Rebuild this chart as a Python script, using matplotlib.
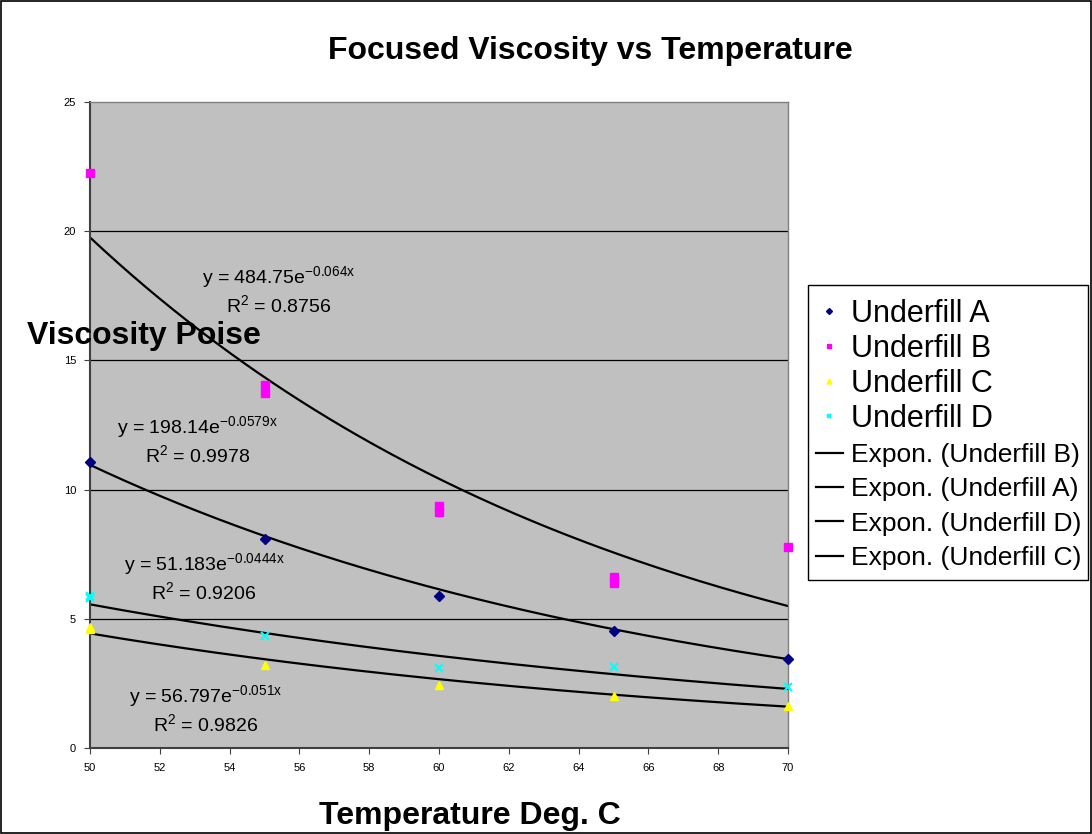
import numpy as np
import matplotlib
matplotlib.use("Agg")
import matplotlib.pyplot as plt
from matplotlib.patches import Rectangle

plt.rcParams['font.family'] = ['Liberation Sans', 'DejaVu Sans']
plt.rcParams['mathtext.fontset'] = 'custom'
plt.rcParams['mathtext.rm'] = 'Liberation Sans'
plt.rcParams['mathtext.default'] = 'regular'

# ---- data ----
a_x = [50, 55, 60, 65, 70]
a_y = [11.07, 8.08, 5.88, 4.54, 3.46]
b_x = [50, 55, 55, 60, 60, 65, 65, 70]
b_y = [22.24, 14.05, 13.72, 9.37, 9.13, 6.6, 6.4, 7.78]
c_x = [50, 50, 55, 60, 65, 70]
c_y = [4.7, 4.6, 3.21, 2.44, 2.01, 1.63]
d_x = [50, 50, 55, 60, 65, 70]
d_y = [5.9, 5.8, 4.33, 3.08, 3.12, 2.37]

# trendline coefficients shown on the chart (y = k * exp(r x))
trend_names = ['Underfill B', 'Underfill A', 'Underfill D', 'Underfill C']
trend_k_txt = ['484.75', '198.14', '51.183', '56.797']
trend_k = [484.75, 198.14, 51.183, 56.797]
trend_r = [-0.064, -0.0579, -0.0444, -0.051]
trend_r2 = ['0.8756', '0.9978', '0.9206', '0.9826']
trend_exp_txt = ['-0.064x', '-0.0579x', '-0.0444x', '-0.051x']
label_pos = [(55.42, 17.72), (53.09, 11.92), (53.27, 6.62), (53.32, 1.51)]

x_ticks = list(range(50, 71, 2))
y_ticks = [0, 5, 10, 15, 20, 25]

fig = plt.figure(figsize=(10.92, 8.34), dpi=100)
ax = fig.add_axes([90/1092, 1-748/834, (788-90)/1092, (748-102)/834])
ax.set_facecolor('#C0C0C0')

for yv in y_ticks[1:-1]:
    ax.axhline(yv, color='black', lw=0.9, zorder=1)

xs = np.linspace(50, 70, 200)
trend_handles = []
for k, r in zip(trend_k, trend_r):
    h, = ax.plot(xs, k*np.exp(r*xs), color='black', lw=1.6, zorder=2)
    trend_handles.append(h)

ha, = ax.plot(a_x, a_y, 'D', color='#000080', ms=5, ls='none', zorder=3, clip_on=False)
hb, = ax.plot(b_x, b_y, 's', color='#FF00FF', ms=6, ls='none', zorder=3, clip_on=False)
hc, = ax.plot(c_x, c_y, '^', color='#FFFF00', ms=6, ls='none', zorder=3, clip_on=False)
hd, = ax.plot(d_x, d_y, 'x', color='#00FFFF', ms=6, mew=1.5, ls='none', zorder=3, clip_on=False)

for (px, py), kt, e, r2 in zip(label_pos, trend_k_txt, trend_exp_txt, trend_r2):
    txt = 'y = %se$^{%s}$\nR$^{2}$ = %s' % (kt, e, r2)
    ax.text(px, py, txt, ha='center', va='center', fontsize=14, multialignment='center', zorder=4)

ax.set_xlim(50, 70)
ax.set_ylim(0, 25)
ax.set_xticks(x_ticks)
ax.set_yticks(y_ticks)
ax.tick_params(axis='both', labelsize=8, length=4, color='#404040')
ax.tick_params(axis='x', direction='out', pad=7)
ax.tick_params(axis='y', pad=6)
for s in ['left', 'bottom']:
    ax.spines[s].set_color('#404040')
    ax.spines[s].set_linewidth(1.5)
for s in ['top', 'right']:
    ax.spines[s].set_color('#808080')
    ax.spines[s].set_linewidth(1.0)

fig.text(590/1092, 1-51/834, 'Focused Viscosity vs Temperature', ha='center', va='center',
         fontsize=23, fontweight='bold')
fig.text(27/1092, 1-336/834, 'Viscosity Poise', ha='left', va='center', fontsize=23, fontweight='bold')
fig.text(470/1092, 1-816/834, 'Temperature Deg. C', ha='center', va='center', fontsize=23, fontweight='bold')

# legend: frame + two stacked borderless legends
fig.add_artist(Rectangle((808/1092, 1-580/834), 280/1092, 295/834, transform=fig.transFigure,
                         facecolor='white', edgecolor='black', lw=1.0, zorder=5))
series_labels = ['Underfill A', 'Underfill B', 'Underfill C', 'Underfill D']
leg1 = fig.legend([ha, hb, hc, hd], series_labels, loc='upper left',
                  bbox_to_anchor=(816/1092, 1-299/834), bbox_transform=fig.transFigure,
                  borderaxespad=0, borderpad=0, frameon=False, fontsize=22, markerscale=0.6,
                  handlelength=0.88, handletextpad=0.26, labelspacing=0.16)
leg1.set_zorder(6)
leg2 = fig.legend(trend_handles, ['Expon. (%s)' % n for n in trend_names], loc='upper left',
                  bbox_to_anchor=(816/1092, 1-443/834), bbox_transform=fig.transFigure,
                  borderaxespad=0, borderpad=0, frameon=False, fontsize=19,
                  handlelength=1.02, handletextpad=0.3, labelspacing=0.39)
leg2.set_zorder(6)

fig.add_artist(Rectangle((0.001, 0.001), 0.998, 0.998, transform=fig.transFigure,
                         fill=False, edgecolor='black', lw=1.2))

fig.savefig('out.png', dpi=100)
